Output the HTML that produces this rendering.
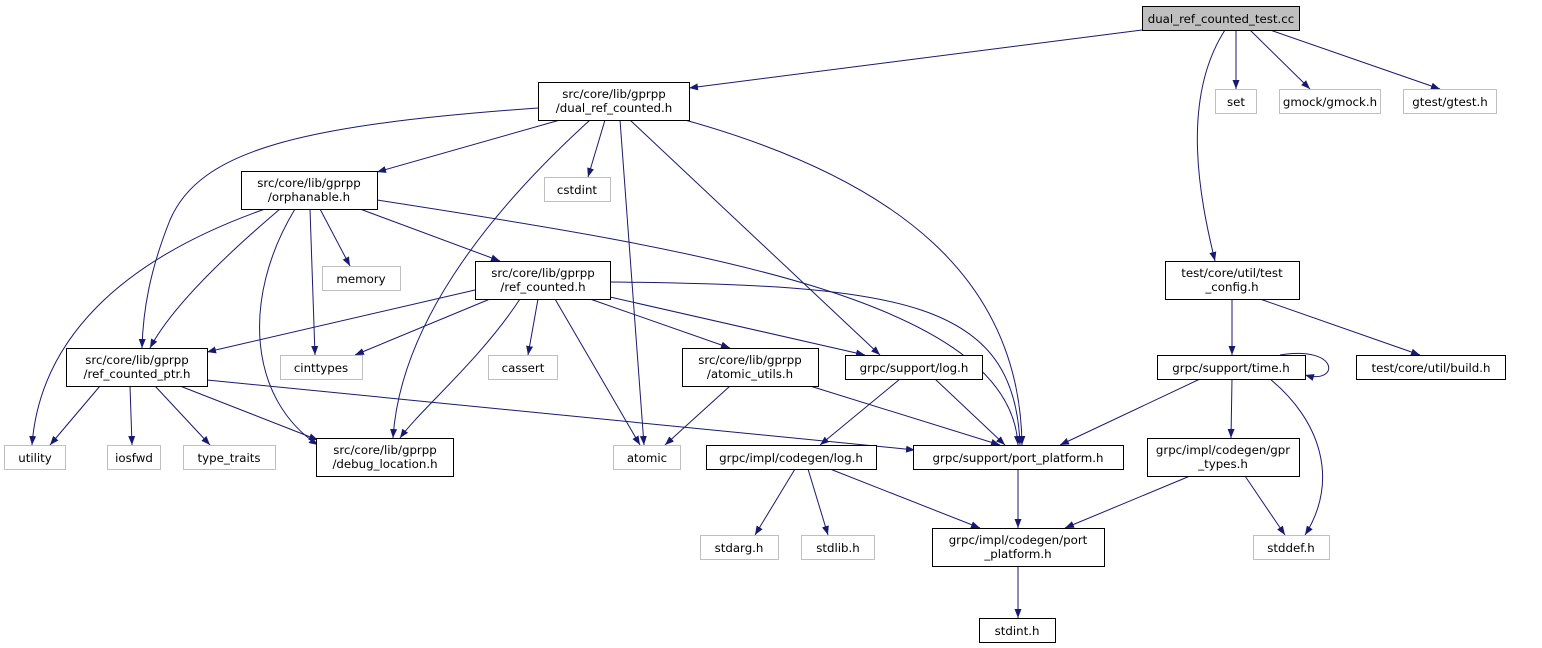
<!DOCTYPE html>
<html><head><meta charset="utf-8"><style>
html,body{margin:0;padding:0;background:#fff;width:1542px;height:648px;overflow:hidden}
svg text{font-family:"DejaVu Sans","Liberation Sans",sans-serif;font-size:11.8px;fill:#000}
</style></head><body>
<svg width="1542" height="648" xmlns="http://www.w3.org/2000/svg">
<defs><marker id="a" markerWidth="10" markerHeight="8" refX="9" refY="4" orient="auto" markerUnits="userSpaceOnUse"><path d="M0,0.5 L9,4 L0,7.5z" fill="#191970"/></marker></defs>
<g fill="none" stroke="#191970" stroke-width="1" marker-end="url(#a)">
<path d="M1142,30 L689,88"/>
<path d="M1236,30 L1236,89"/>
<path d="M1250,30 L1310,89"/>
<path d="M1270,30 L1440,89"/>
<path d="M1225,30 C1180,100 1200,200 1215,261"/>
<path d="M560,120 L377,172"/>
<path d="M538,108 C300,125 200,150 170,220 C150,270 143,310 142,348"/>
<path d="M590,120 C480,220 400,330 393,438"/>
<path d="M605,120 L588,177"/>
<path d="M620,120 L644,445"/>
<path d="M630,120 L880,355"/>
<path d="M685,120 C900,180 1020,280 1022,445"/>
<path d="M265,209 C120,260 40,340 32,445"/>
<path d="M280,209 C220,260 170,310 150,348"/>
<path d="M295,209 C240,300 250,400 318,445"/>
<path d="M310,209 L315,355"/>
<path d="M320,209 L350,266"/>
<path d="M360,209 L500,261"/>
<path d="M377,200 C700,250 1010,300 1018,445"/>
<path d="M475,290 L207,352"/>
<path d="M490,299 L355,355"/>
<path d="M520,299 C480,360 420,410 400,438"/>
<path d="M538,299 L528,355"/>
<path d="M555,299 L640,445"/>
<path d="M590,299 L730,348"/>
<path d="M610,297 L865,355"/>
<path d="M610,282 C900,285 1015,300 1020,445"/>
<path d="M100,386 L50,445"/>
<path d="M130,386 L132,445"/>
<path d="M155,386 L210,445"/>
<path d="M180,386 L318,440"/>
<path d="M207,380 L915,450"/>
<path d="M730,386 L665,445"/>
<path d="M810,386 L1000,445"/>
<path d="M900,379 L820,445"/>
<path d="M935,379 L1005,445"/>
<path d="M795,469 L755,535"/>
<path d="M808,469 L828,535"/>
<path d="M830,469 L980,528"/>
<path d="M1018,469 L1018,528"/>
<path d="M1018,566 L1018,618"/>
<path d="M1232,299 L1232,355"/>
<path d="M1260,299 L1420,355"/>
<path d="M1280,355 C1340,345 1340,385 1305,375"/>
<path d="M1200,379 L1060,445"/>
<path d="M1232,379 L1231,438"/>
<path d="M1270,379 C1320,420 1340,480 1305,535"/>
<path d="M1190,476 L1065,528"/>
<path d="M1245,476 L1285,535"/>
</g>
<g stroke-width="1">
<rect x="1142.5" y="6.5" width="157" height="24" fill="#bfbfbf" stroke="#000"/>
<g fill="#fff" stroke="#000">
<rect x="538.5" y="82.5" width="151" height="38"/>
<rect x="241.5" y="171.5" width="136" height="38"/>
<rect x="475.5" y="261.5" width="135" height="38"/>
<rect x="1165.5" y="261.5" width="134" height="38"/>
<rect x="66.5" y="348.5" width="141" height="38"/>
<rect x="682.5" y="348.5" width="136" height="38"/>
<rect x="845.5" y="355.5" width="137" height="24"/>
<rect x="1157.5" y="355.5" width="148" height="24"/>
<rect x="1356.5" y="355.5" width="149" height="24"/>
<rect x="316.5" y="438.5" width="137" height="38"/>
<rect x="706.5" y="445.5" width="170" height="24"/>
<rect x="913.5" y="445.5" width="210" height="24"/>
<rect x="1147.5" y="438.5" width="152" height="38"/>
<rect x="932.5" y="528.5" width="172" height="38"/>
<rect x="979.5" y="618.5" width="76" height="24"/>
</g>
<g fill="#fff" stroke="#bfbfbf">
<rect x="1215.5" y="89.5" width="41" height="24"/>
<rect x="1279.5" y="89.5" width="101" height="24"/>
<rect x="1403.5" y="89.5" width="93" height="24"/>
<rect x="544.5" y="177.5" width="66" height="24"/>
<rect x="322.5" y="266.5" width="78" height="24"/>
<rect x="280.5" y="355.5" width="82" height="24"/>
<rect x="488.5" y="355.5" width="69" height="24"/>
<rect x="4.5" y="445.5" width="61" height="24"/>
<rect x="107.5" y="445.5" width="53" height="24"/>
<rect x="183.5" y="445.5" width="92" height="24"/>
<rect x="613.5" y="445.5" width="67" height="24"/>
<rect x="700.5" y="535.5" width="78" height="24"/>
<rect x="801.5" y="535.5" width="73" height="24"/>
<rect x="1253.5" y="535.5" width="76" height="24"/>
</g>
</g>
<g text-anchor="middle">
<text x="1221" y="23">dual_ref_counted_test.cc</text>
<text x="1236" y="106">set</text>
<text x="1330" y="106">gmock/gmock.h</text>
<text x="1450" y="106">gtest/gtest.h</text>
<text x="577" y="194">cstdint</text>
<text x="361" y="283">memory</text>
<text x="321" y="372">cinttypes</text>
<text x="523" y="372">cassert</text>
<text x="914" y="372">grpc/support/log.h</text>
<text x="1231" y="372">grpc/support/time.h</text>
<text x="1431" y="372">test/core/util/build.h</text>
<text x="35" y="462">utility</text>
<text x="134" y="462">iosfwd</text>
<text x="229" y="462">type_traits</text>
<text x="647" y="462">atomic</text>
<text x="791" y="462">grpc/impl/codegen/log.h</text>
<text x="1018" y="462">grpc/support/port_platform.h</text>
<text x="739" y="552">stdarg.h</text>
<text x="838" y="552">stdlib.h</text>
<text x="1291" y="552">stddef.h</text>
<text x="1017" y="635">stdint.h</text>
<text x="614" y="98">src/core/lib/gprpp</text><text x="614" y="112">/dual_ref_counted.h</text>
<text x="309" y="187">src/core/lib/gprpp</text><text x="309" y="201">/orphanable.h</text>
<text x="543" y="277">src/core/lib/gprpp</text><text x="543" y="291">/ref_counted.h</text>
<text x="1232" y="277">test/core/util/test</text><text x="1232" y="291">_config.h</text>
<text x="137" y="364">src/core/lib/gprpp</text><text x="137" y="378">/ref_counted_ptr.h</text>
<text x="750" y="364">src/core/lib/gprpp</text><text x="750" y="378">/atomic_utils.h</text>
<text x="385" y="454">src/core/lib/gprpp</text><text x="385" y="468">/debug_location.h</text>
<text x="1223" y="454">grpc/impl/codegen/gpr</text><text x="1223" y="468">_types.h</text>
<text x="1018" y="544">grpc/impl/codegen/port</text><text x="1018" y="558">_platform.h</text>
</g>
</svg>
</body></html>
